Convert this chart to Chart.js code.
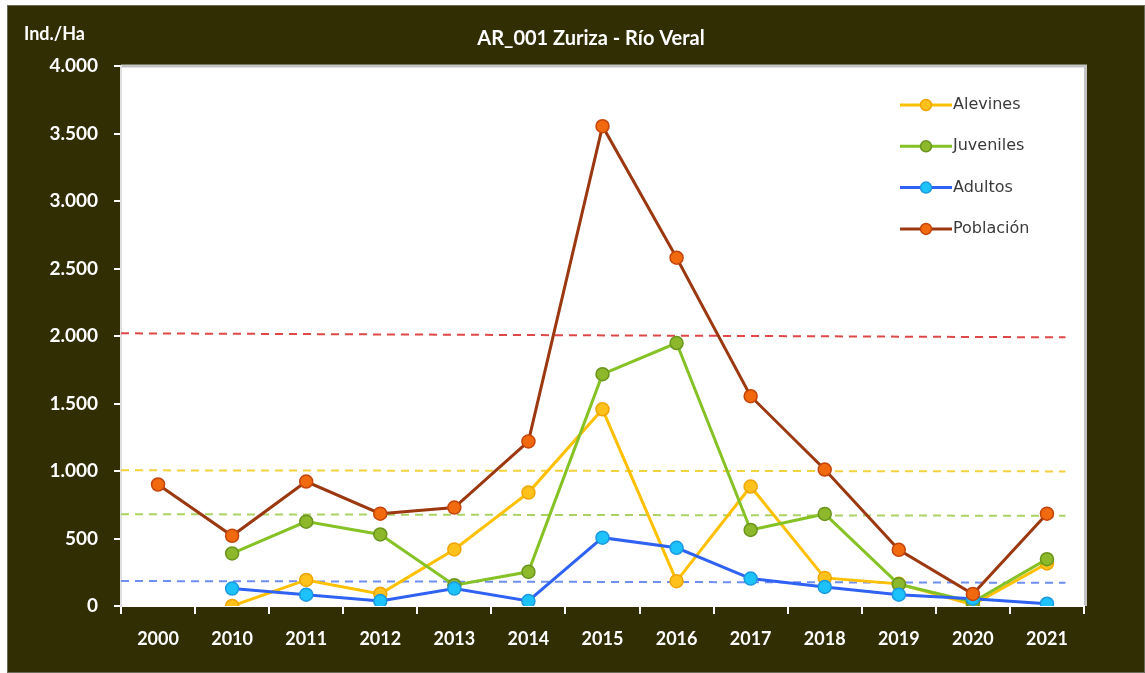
<!DOCTYPE html>
<html>
<head>
<meta charset="utf-8">
<script src="https://cdn.jsdelivr.net/npm/chart.js@4.4.1/dist/chart.umd.min.js"></script>
<style>
  html, body { margin: 0; padding: 0; background: #ffffff; }
  #frame {
    position: absolute; left: 7px; top: 5px; width: 1136px; height: 666px;
    background: #312e04; border: 1px solid #6b6b5a;
  }
  canvas { display: block; }
</style>
</head>
<body>
<div id="frame"><canvas id="chart" width="1136" height="666"></canvas></div>
<script>
// categories and series values (Ind./Ha)
const years = ['2000', '2010', '2011', '2012', '2013', '2014', '2015', '2016', '2017', '2018', '2019', '2020', '2021'];
const alevines = [null, 0, 193, 90, 419, 840, 1457, 184, 885, 208, 164, 10, 315];
const juveniles = [null, 389, 625, 530, 154, 253, 1717, 1948, 563, 682, 161, 30, 347];
const adultos = [null, 129, 84, 37, 129, 37, 506, 431, 203, 141, 84, 54, 17];
const poblacion = [900, 520, 922, 684, 729, 1219, 3554, 2580, 1554, 1011, 416, 89, 684];

// reference levels (dashed), start and end value
const refPoblacion = [2020, 1990];
const refAlevines = [1005, 997];
const refJuveniles = [680, 668];
const refAdultos = [185, 172];

const yTicks = [0, 500, 1000, 1500, 2000, 2500, 3000, 3500, 4000];

const fmt = (v) => String(v).replace(/\B(?=(\d{3})+(?!\d))/g, '.');

function serie(label, values, line, fill, border, order) {
  return {
    label: label, data: values, borderColor: line, backgroundColor: fill,
    pointBackgroundColor: fill, pointBorderColor: border, pointBorderWidth: 1.5,
    pointRadius: 6.5, borderWidth: 3, order: order, xAxisID: 'x', tension: 0
  };
}

function refLine(values, color) {
  return {
    label: '_ref', data: [{x: 0, y: values[0]}, {x: 12.75, y: values[1]}],
    xAxisID: 'xr', borderColor: color, borderWidth: 2, borderDash: [8, 6],
    pointRadius: 0, order: 10, fill: false
  };
}

// white plot area with grey frame
const plotBg = {
  id: 'plotBg',
  beforeDraw(chart) {
    const {ctx, chartArea: a} = chart;
    ctx.save();
    ctx.fillStyle = '#ffffff';
    ctx.fillRect(a.left, a.top, a.right - a.left, a.bottom - a.top);
    ctx.strokeStyle = '#c4c4c4';
    ctx.lineWidth = 3;
    ctx.beginPath();
    ctx.moveTo(a.left, a.top);
    ctx.lineTo(a.right + 1.5, a.top);
    ctx.lineTo(a.right + 1.5, a.bottom);
    ctx.stroke();
    ctx.restore();
  }
};

// titles and legend inside the plot
const decor = {
  id: 'decor',
  afterDraw(chart) {
    const ctx = chart.ctx;
    ctx.save();
    ctx.fillStyle = '#ffffff';
    ctx.textBaseline = 'middle';
    ctx.font = 'bold 20px Lato';
    ctx.textAlign = 'center';
    ctx.fillText('AR_001 Zuriza - Río Veral', 583, 33);
    ctx.font = 'bold 18px Lato';
    ctx.textAlign = 'left';
    ctx.fillText('Ind./Ha', 16, 28);

    const items = chart.data.datasets.filter(d => d.label !== '_ref');
    items.forEach((d, i) => {
      const y = 99 + i * 41.3;
      ctx.strokeStyle = d.borderColor;
      ctx.lineWidth = 3;
      ctx.beginPath();
      ctx.moveTo(892, y);
      ctx.lineTo(944, y);
      ctx.stroke();
      ctx.beginPath();
      ctx.arc(918, y, 5.5, 0, Math.PI * 2);
      ctx.fillStyle = d.pointBackgroundColor;
      ctx.fill();
      ctx.lineWidth = 1.5;
      ctx.strokeStyle = d.pointBorderColor;
      ctx.stroke();
      ctx.fillStyle = '#3a3a3a';
      ctx.font = '16px "DejaVu Sans"';
      ctx.textAlign = 'left';
      ctx.fillText(d.label, 945, y);
    });
    ctx.restore();
  }
};

new Chart(document.getElementById('chart'), {
  type: 'line',
  data: {
    labels: years,
    datasets: [
      serie('Alevines', alevines, '#ffc000', '#ffc21a', '#f0a400', 3),
      serie('Juveniles', juveniles, '#86c226', '#8db82b', '#6a941c', 2),
      serie('Adultos', adultos, '#2f62f2', '#1ec2fa', '#1a98e0', 1),
      serie('Población', poblacion, '#9b3810', '#f26a10', '#c4440a', 0),
      refLine(refPoblacion, '#e04848'),
      refLine(refAlevines, '#f3d23c'),
      refLine(refJuveniles, '#acd264'),
      refLine(refAdultos, '#6e8ef0')
    ]
  },
  options: {
    responsive: false,
    animation: false,
    layout: {padding: {top: 60, right: 60, bottom: 0, left: 0}},
    plugins: {
      legend: {display: false},
      title: {display: false},
      tooltip: {enabled: false}
    },
    scales: {
      x: {
        type: 'category',
        offset: true,
        grid: {
          display: true, offset: true, drawOnChartArea: false,
          color: '#ffffff', tickLength: 8, lineWidth: 2
        },
        border: {display: true, color: '#ffffff', width: 2},
        ticks: {
          color: '#ffffff', padding: 14,
          font: {family: 'Lato', weight: 'bold', size: 18}
        },
        afterFit(scale) { scale.height = 66; }
      },
      xr: {
        type: 'linear', display: false, min: 0, max: 13
      },
      y: {
        min: 0, max: 4000,
        afterBuildTicks(scale) { scale.ticks = yTicks.map(v => ({value: v})); },
        grid: {
          display: true, drawOnChartArea: false,
          color: '#ffffff', tickLength: 7, lineWidth: 2
        },
        border: {display: true, color: '#e0e0e0', width: 2},
        ticks: {
          color: '#ffffff', padding: 16,
          font: {family: 'Lato', weight: 'bold', size: 19},
          callback: (v) => fmt(v)
        },
        afterFit(scale) { scale.width = 113; }
      }
    }
  },
  plugins: [plotBg, decor]
});
</script>
</body>
</html>
